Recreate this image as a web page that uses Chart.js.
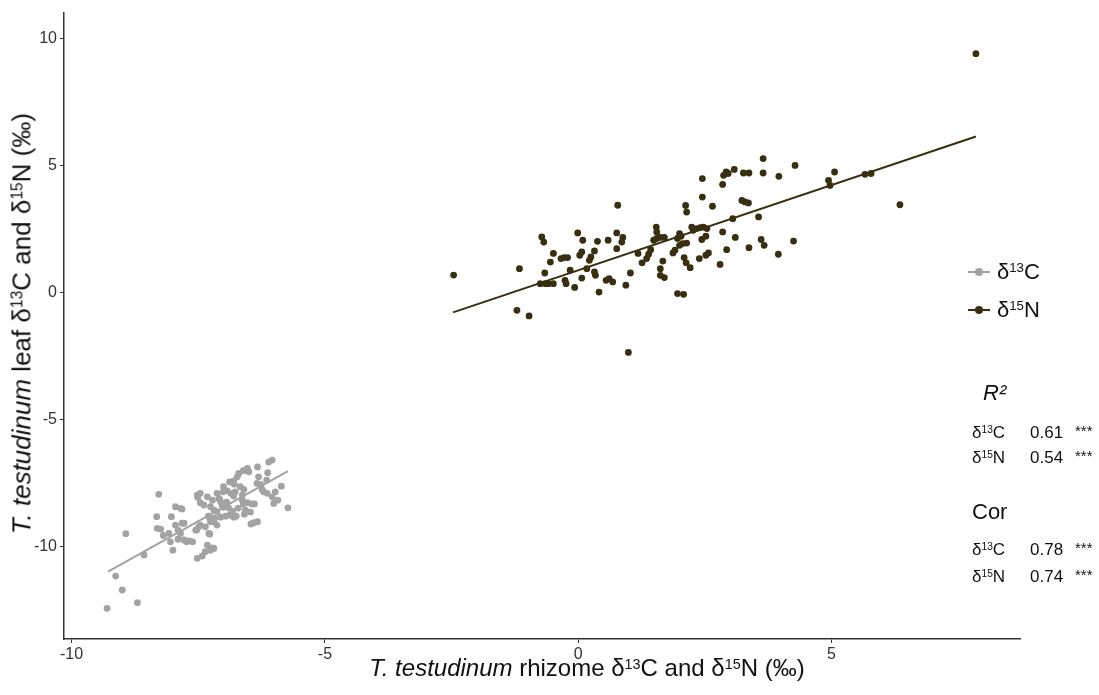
<!DOCTYPE html>
<html>
<head>
<meta charset="utf-8">
<script src="https://cdn.jsdelivr.net/npm/chart.js@4.4.0/dist/chart.umd.min.js"></script>
<style>
  body { margin: 0; background: #fff; }
  #wrap { position: relative; width: 1099px; height: 695px; font-family: "Liberation Sans", Arial, sans-serif; color: #111; }
  .lbl { position: absolute; white-space: nowrap; }
  sup { font-size: 0.6em; vertical-align: 0.5em; line-height: 0; }
  .key { position: absolute; width: 22px; height: 2px; }
  .key span { position: absolute; left: 7px; top: -3px; width: 8px; height: 8px; border-radius: 50%; }
</style>
</head>
<body>
<div id="wrap">
  <canvas id="scatter" width="1099" height="695"></canvas>
</div>
<script>
////////////////// Data ///////////////////////

// δ13C : rhizome (x) vs leaf (y)
const cRhizome = [
  -8.28, -8.93, -8.57, -9.13, -9.00, -8.70, -9.30, -8.32, -8.31, -8.24, -8.19, -8.03, -7.95, -7.82,
  -8.08, -8.05, -8.00, -7.95, -7.90, -7.85, -7.78, -7.90, -7.73, -7.61, -7.53, -7.49, -7.51, -7.46,
  -7.39, -7.27, -7.26, -7.29, -7.32, -7.21, -7.36, -7.42, -7.52, -7.13, -7.09, -7.06, -7.03, -7.19,
  -7.13, -7.26, -7.32, -7.22, -7.08, -6.96, -7.01, -7.30, -7.18, -7.06, -6.96, -6.88, -6.80, -6.75,
  -7.19, -7.13, -7.46, -7.36, -7.55, -7.78, -7.68, -7.82, -7.85, -7.19, -7.27, -6.88, -6.80, -6.79,
  -7.00, -6.93, -7.01, -6.86, -6.80, -6.77, -6.67, -6.60, -6.63, -6.70, -6.73, -6.53, -6.61, -6.50,
  -6.33, -6.31, -6.13, -6.15, -6.04, -6.11, -6.34, -6.27, -6.24, -6.21, -6.14, -6.04, -5.98, -5.93,
  -6.01, -5.86, -5.73, -6.63, -6.61, -6.53, -6.44, -6.39, -6.46, -6.40, -6.33, -7.26, -6.57, -6.47,
  -6.90, -6.82, -6.71, -6.59, -6.94, -7.46, -7.52
];
const cLeaf = [
  -7.95, -9.50, -10.34, -11.17, -11.72, -12.22, -12.44, -8.83, -9.29, -9.32, -9.57, -8.83, -8.44, -8.53,
  -9.49, -9.82, -10.15, -9.16, -9.36, -9.49, -9.09, -9.72, -9.82, -9.82, -9.36, -9.23, -8.07, -8.28,
  -8.37, -8.90, -9.03, -9.49, -9.95, -10.06, -10.21, -10.38, -10.47, -7.91, -8.11, -8.24, -8.37, -8.57,
  -8.64, -8.44, -8.05, -8.18, -8.15, -8.37, -8.46, -8.81, -8.89, -8.85, -8.81, -8.77, -8.85, -8.81,
  -9.03, -9.16, -9.16, -9.23, -9.36, -9.75, -9.78, -9.09, -8.50, -10.08, -9.52, -7.46, -7.42, -7.55,
  -7.65, -7.81, -7.85, -7.91, -8.02, -7.85, -7.65, -7.76, -7.98, -7.13, -7.26, -6.93, -7.02, -7.06,
  -6.87, -7.26, -7.10, -7.39, -6.60, -6.68, -7.52, -7.56, -7.76, -7.85, -7.91, -8.05, -7.85, -8.18,
  -8.31, -7.63, -8.48, -8.18, -8.33, -8.28, -8.33, -8.33, -9.12, -9.07, -9.03, -10.15, -8.57, -8.65,
  -8.49, -8.61, -8.49, -8.73, -8.26, -7.91, -7.98
];

// δ15N : rhizome (x) vs leaf (y)
const nRhizome = [
  -2.46, -1.16, -1.21, -0.97, -0.72, -0.68, -0.49, -0.55, -0.66, -0.75, -0.65, -0.59, -0.49, -0.34,
  -0.28, -0.21, -0.01, 0.09, 0.03, 0.07, -0.16, -0.26, -0.24, -0.07, 0.07, 0.17, 0.22, 0.25,
  0.32, 0.38, 0.32, 0.34, 0.41, 0.55, 0.61, 0.68, 0.59, 0.76, 0.76, 0.78, 0.88, 0.86,
  1.03, 0.94, 0.99, 1.18, 1.26, 1.35, 1.39, 1.43, 1.49, 1.55, 1.62, 1.70, 1.54, 1.55,
  1.67, 1.62, 1.62, 1.70, 1.87, 1.91, 1.96, 2.00, 2.03, 1.96, 2.08, 2.09, 2.13, 2.21,
  2.00, 2.06, 2.14, 2.12, 2.14, 2.24, 2.27, 2.34, 2.41, 2.47, 2.54, 2.39, 2.52, 2.57,
  2.44, 2.52, 2.45, 2.45, 2.65, 2.80, 2.85, 2.93, 2.85, 2.87, 2.92, 2.96, 3.08, 3.05,
  3.10, 3.26, 3.37, 3.65, 3.65, 3.23, 3.29, 3.36, 3.37, 3.56, 3.61, 3.67, 3.95, 3.96,
  4.28, 4.25, 4.94, 4.97, 5.06, 5.66, 5.78, 6.35, 7.85
];
const nLeaf = [
  0.69, 0.94, -0.70, -0.92, 2.19, 1.99, 1.54, 1.20, 0.77, 0.35, 0.35, 0.35, 0.35, 1.34,
  1.38, 1.38, 2.35, 2.06, 1.47, 1.60, 0.88, 0.48, 0.35, 0.20, 0.57, 0.94, 1.27, 1.40,
  1.64, 2.02, 0.81, 0.68, 0.02, 0.48, 0.55, 0.42, 2.06, 2.35, 1.73, 3.44, 2.17, 1.99,
  0.77, 0.29, -2.36, 1.54, 1.17, 1.34, 1.51, 1.69, 2.06, 2.13, 2.17, 2.17, 2.58, 2.39,
  1.24, 0.94, 0.68, 0.59, 1.56, 1.67, 2.13, 2.32, 2.22, -0.04, -0.07, 1.38, 1.17, 0.98,
  1.86, 1.93, 1.95, 3.43, 3.17, 2.58, 2.45, 2.52, 2.56, 2.58, 2.52, 1.34, 1.47, 1.56,
  2.09, 2.22, 4.49, 3.76, 3.40, 1.11, 2.39, 1.69, 4.26, 4.62, 4.75, 4.69, 4.85, 2.91,
  2.17, 4.71, 4.71, 5.28, 4.71, 3.63, 3.57, 3.53, 1.77, 2.98, 2.09, 1.86, 1.51, 4.58,
  5.01, 2.03, 4.42, 4.22, 4.75, 4.66, 4.69, 3.46, 9.41
];

// fitted regression lines (end points)
const cFitX = [-9.28, -5.73];
const cFitY = [-11.0, -7.04];
const nFitX = [-2.47, 7.85];
const nFitY = [-0.78, 6.15];

// axis ticks
const xTicks = [-10, -5, 0, 5];
const yTicks = [-10, -5, 0, 5, 10];

// legend + stats
const seriesNames = ["δ<sup>13</sup>C", "δ<sup>15</sup>N"];
const r2Values = ["0.61", "0.54"];
const corValues = ["0.78", "0.74"];
const signif = ["***", "***"];

const cColor = "#a3a3a3";
const nColor = "#382e10";

const toPoints = (xs, ys) => xs.map((x, i) => ({ x: x, y: ys[i] }));

////////////////// Chart ///////////////////////

const ctx = document.getElementById("scatter");
const axisFont = { family: "'Liberation Sans', Arial, sans-serif", size: 16 };

const myChart = new Chart(ctx, {
  type: "scatter",
  data: {
    datasets: [
      {
        type: "line",
        data: toPoints(cFitX, cFitY),
        borderColor: cColor,
        borderWidth: 2,
        pointRadius: 0,
      },
      {
        type: "line",
        data: toPoints(nFitX, nFitY),
        borderColor: nColor,
        borderWidth: 2,
        pointRadius: 0,
      },
      {
        data: toPoints(cRhizome, cLeaf),
        backgroundColor: cColor,
        borderWidth: 0,
        pointRadius: 3.4,
      },
      {
        data: toPoints(nRhizome, nLeaf),
        backgroundColor: nColor,
        borderWidth: 0,
        pointRadius: 3.4,
      },
    ],
  },
  options: {
    responsive: false,
    animation: false,
    layout: { padding: { left: 0, top: 12, right: 79, bottom: 0 } },
    scales: {
      x: {
        type: "linear",
        min: -10.15,
        max: 8.72,
        afterBuildTicks: (scale) => { scale.ticks = xTicks.map((v) => ({ value: v })); },
        afterFit: (scale) => { scale.height = 56; },
        border: { display: true, color: "#333", width: 1.5 },
        grid: { display: true, drawOnChartArea: false, drawTicks: true, tickLength: 4, color: "#333" },
        ticks: { color: "#333", font: axisFont, padding: 2, maxRotation: 0 },
      },
      y: {
        type: "linear",
        min: -13.65,
        max: 11.03,
        afterBuildTicks: (scale) => { scale.ticks = yTicks.map((v) => ({ value: v })); },
        afterFit: (scale) => { scale.width = 64; },
        border: { display: true, color: "#333", width: 1.5 },
        grid: { display: true, drawOnChartArea: false, drawTicks: true, tickLength: 4, color: "#333" },
        ticks: { color: "#333", font: axisFont, padding: 3 },
      },
    },
    plugins: {
      legend: { display: false },
      tooltip: { enabled: false },
    },
  },
});

////////////////// Titles, legend, stats ///////////////////////

const wrap = document.getElementById("wrap");
const addLabel = (html, left, cy, size, extra) => {
  const d = document.createElement("div");
  d.className = "lbl";
  d.innerHTML = html;
  d.style.left = left + "px";
  d.style.top = (cy - size * 0.6) + "px";
  d.style.fontSize = size + "px";
  d.style.lineHeight = (size * 1.2) + "px";
  if (extra) Object.assign(d.style, extra);
  wrap.appendChild(d);
  return d;
};

// axis titles
const xt = addLabel("<i>T. testudinum</i> rhizome δ<sup>13</sup>C and δ<sup>15</sup>N (‰)", 587, 668, 24);
xt.style.transform = "translateX(-50%)";
const yt = addLabel("<i>T. testudinum</i> leaf δ<sup>13</sup>C and δ<sup>15</sup>N (‰)", 22, 324, 26);
yt.style.transform = "translate(-50%, 0) rotate(-90deg)";
yt.style.transformOrigin = "50% 50%";

// legend
[cColor, nColor].forEach((col, i) => {
  const cy = 272 + i * 38;
  const k = document.createElement("div");
  k.className = "key";
  k.style.left = "968px";
  k.style.top = (cy - 1) + "px";
  k.style.background = col;
  k.innerHTML = '<span style="background:' + col + '"></span>';
  wrap.appendChild(k);
  addLabel(seriesNames[i], 997, cy, 22);
});

// R² and correlation
addLabel("<i>R²</i>", 983, 393, 22);
r2Values.forEach((v, i) => {
  const cy = 433 + i * 25;
  addLabel(seriesNames[i], 972, cy, 17);
  addLabel(v, 1030, cy, 17);
  addLabel(signif[i], 1075, cy - 2, 15);
});
addLabel("Cor", 972, 512, 22);
corValues.forEach((v, i) => {
  const cy = 550 + i * 27;
  addLabel(seriesNames[i], 972, cy, 17);
  addLabel(v, 1030, cy, 17);
  addLabel(signif[i], 1075, cy - 2, 15);
});
</script>
</body>
</html>
